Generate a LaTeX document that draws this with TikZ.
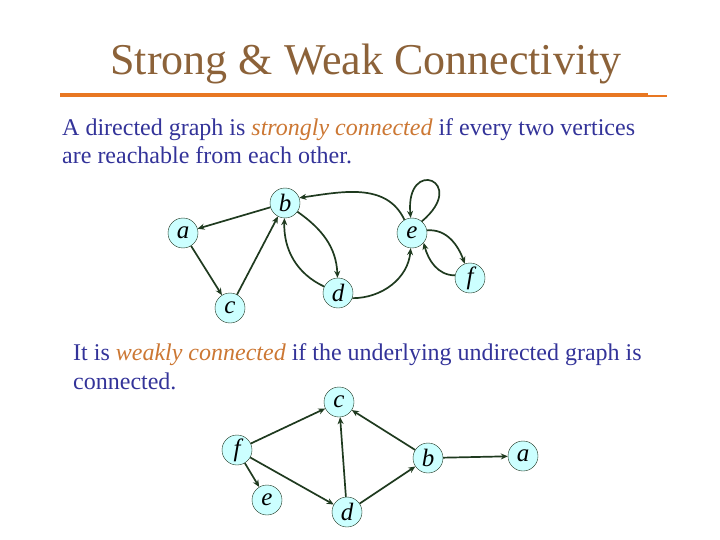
\documentclass[tikz,border=0pt]{standalone}
\usepackage{fontspec}
\setmainfont{Liberation Serif}
\usetikzlibrary{arrows.meta}
\definecolor{titlecol}{HTML}{8C6239}
\definecolor{rulecol}{HTML}{E87722}
\definecolor{bodycol}{HTML}{333399}
\definecolor{emcol}{HTML}{CC7733}
\definecolor{edgecol}{HTML}{1F3A1F}
\definecolor{nodefill}{HTML}{CCFFFF}
\begin{document}
\begin{tikzpicture}[x=1pt,y=-1pt,
  vtx/.style={circle,draw=edgecol!80!black,thin,fill=nodefill,minimum size=30pt,inner sep=0pt,
    font=\fontsize{25}{25}\selectfont\itshape},
  arr/.style={draw=edgecol,line width=1.7pt,-{Stealth[length=7pt,width=6pt]}},
  body/.style={anchor=base west,inner sep=0pt,text=bodycol,font=\fontsize{24}{24}\selectfont}]
\useasboundingbox (0,0) rectangle (720,540);
% title
\node[anchor=base,inner sep=0pt,text=titlecol,font=\fontsize{44}{44}\selectfont] (title) at (366,75) {Strong \& Weak Connectivity};
\draw[rulecol,line width=3.5pt] (60,95) coordinate (r1) -- (648,95) coordinate (r2);
\draw[rulecol,line width=2pt] (648,96) coordinate (r3) -- (667,96) coordinate (r4);
% texts
\node[body] (t1) at (62,136) {A directed graph is \textcolor{emcol}{\itshape strongly connected} if every two vertices};
\node[body] (t2) at (62,164) {are reachable from each other.};
\node[body] (t3) at (73,360) {It is \textcolor{emcol}{\itshape weakly connected} if the underlying undirected graph is};
\node[body] (t4) at (73,389) {connected.};
% graph 1
\node[vtx] (b) at (285,203) {b};
\node[vtx] (a) at (183,233) {a};
\node[vtx] (c) at (230,308) {c};
\node[vtx] (d) at (338,293) {d};
\node[vtx] (e) at (412,233) {e};
\node[vtx] (f) at (470,278) {f};
\draw[arr] (b) -- (a);
\draw[arr] (a) -- (c);
\draw[arr] (c) -- (b);
\draw[arr] (b) to[out=-35,in=92] (d);
\draw[arr] (d) to[out=155,in=-92] (b);
\draw[arr] (e.120) to[out=115,in=8] (b.20);
\draw[arr] (e.50) to[out=40,in=95,min distance=62pt] (e.95);
\draw[arr] (e.10) to[out=5,in=110] (f.110);
\draw[arr] (f.170) to[out=180,in=-75] (e.-40);
\draw[arr] (d.-20) to[out=0,in=-95] (e.-95);
% graph 2
\node[vtx] (c2) at (339,402) {c};
\node[vtx] (f2) at (237,450) {f};
\node[vtx] (e2) at (267,500) {e};
\node[vtx] (d2) at (347,512) {d};
\node[vtx] (b2) at (428,458) {b};
\node[vtx] (a2) at (523,456) {a};
\draw[arr] (f2) -- (c2);
\draw[arr] (f2) -- (e2);
\draw[arr] (f2) -- (d2);
\draw[arr] (d2) -- (c2);
\draw[arr] (d2) -- (b2);
\draw[arr] (b2) -- (c2);
\draw[arr] (b2) -- (a2);
\end{tikzpicture}
\end{document}
